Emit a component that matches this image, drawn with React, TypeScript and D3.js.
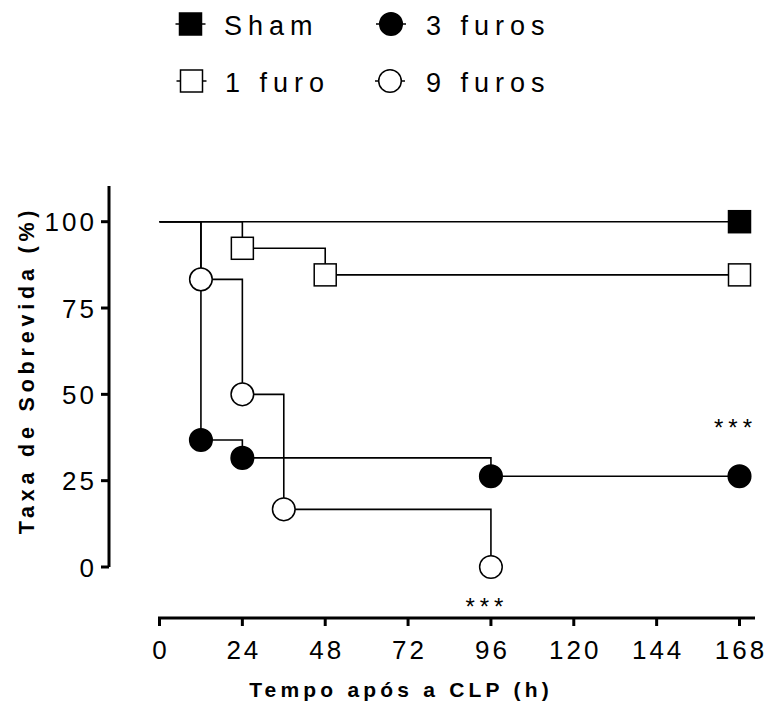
import React from "react";
import * as d3 from "d3";

// Survival (%) over time (h) after CLP, per group
const groups = ["Sham", "1 furo", "3 furos", "9 furos"];
const shamTimes = [0, 168];
const shamSurvival = [100, 100];
const oneTimes = [0, 24, 48, 168];
const oneSurvival = [100, 92.3, 84.6, 84.6];
const threeTimes = [0, 12, 24, 96, 168];
const threeSurvival = [100, 36.8, 31.6, 26.3, 26.3];
const nineTimes = [0, 12, 24, 36, 96];
const nineSurvival = [100, 83.3, 50, 16.7, 0];

const xTicks = [0, 24, 48, 72, 96, 120, 144, 168];
const yTicks = [0, 25, 50, 75, 100];

// Significance markers: [time, survival] the stars sit next to
const starNine = [96, 0];
const starThree = [168, 26.3];

const FONT = "'Liberation Sans', Arial, Helvetica, sans-serif";

type Series = {
  name: string;
  times: number[];
  values: number[];
  shape: "square" | "circle";
  filled: boolean;
};

const series: Series[] = [
  { name: groups[0], times: shamTimes, values: shamSurvival, shape: "square", filled: true },
  { name: groups[1], times: oneTimes, values: oneSurvival, shape: "square", filled: false },
  { name: groups[2], times: threeTimes, values: threeSurvival, shape: "circle", filled: true },
  { name: groups[3], times: nineTimes, values: nineSurvival, shape: "circle", filled: false },
];

function Marker({ cx, cy, shape, filled }: { cx: number; cy: number; shape: string; filled: boolean }) {
  const fill = filled ? "#000" : "#fff";
  if (shape === "square") {
    const s = 22;
    return <rect x={cx - s / 2} y={cy - s / 2} width={s} height={s} fill={fill} stroke="#000" strokeWidth={1.5} />;
  }
  return <circle cx={cx} cy={cy} r={11.3} fill={fill} stroke="#000" strokeWidth={1.5} />;
}

export default function App() {
  const x = d3.scaleLinear().domain([0, 168]).range([159.5, 739.5]);
  const y = d3.scaleLinear().domain([0, 100]).range([567, 221.7]);
  const axisY = 618;
  const axisX = 109;

  const line = d3
    .line<[number, number]>()
    .x((d) => x(d[0]))
    .y((d) => y(d[1]))
    .curve(d3.curveStepAfter);

  const legendItems = [
    { s: series[0], mx: 190.5, my: 24, tx: 224, ty: 35 },
    { s: series[2], mx: 391, my: 24, tx: 426, ty: 35 },
    { s: series[1], mx: 191.5, my: 81, tx: 225, ty: 92 },
    { s: series[3], mx: 390, my: 81, tx: 426, ty: 92 },
  ];

  return (
    <svg
      width={768}
      height={724}
      style={{ position: "absolute", left: 0, top: 0, background: "#fff" }}
      fontFamily={FONT}
    >
      {/* legend */}
      {legendItems.map((it) => (
        <g key={it.s.name}>
          <line x1={it.mx - 15} x2={it.mx + 15} y1={it.my} y2={it.my} stroke="#000" strokeWidth={1.5} />
          <Marker cx={it.mx} cy={it.my} shape={it.s.shape} filled={it.s.filled} />
          <text x={it.tx} y={it.ty} fontSize={27} letterSpacing={6} fill="#000">
            {it.s.name}
          </text>
        </g>
      ))}

      {/* y axis */}
      <line x1={axisX} x2={axisX} y1={186} y2={y(0)} stroke="#000" strokeWidth={3} />
      {yTicks.map((t) => (
        <g key={"y" + t}>
          <line x1={axisX - 8} x2={axisX} y1={y(t)} y2={y(t)} stroke="#000" strokeWidth={3} />
          <text x={97} y={y(t) + 9.5} fontSize={26} letterSpacing={3} textAnchor="end" fill="#000">
            {t}
          </text>
        </g>
      ))}
      <text
        transform={`translate(34,${370}) rotate(-90)`}
        fontSize={21.5}
        fontWeight="bold"
        letterSpacing={4.8}
        textAnchor="middle"
        fill="#000"
      >
        Taxa de Sobrevida (%)
      </text>

      {/* x axis */}
      <line x1={x(0) - 1.5} x2={755} y1={axisY} y2={axisY} stroke="#000" strokeWidth={3} />
      {xTicks.map((t) => (
        <g key={"x" + t}>
          <line x1={x(t)} x2={x(t)} y1={axisY} y2={axisY + 8} stroke="#000" strokeWidth={3} />
          <text x={x(t) + 1.5} y={659} fontSize={26} letterSpacing={3} textAnchor="middle" fill="#000">
            {t}
          </text>
        </g>
      ))}
      <text x={401} y={697} fontSize={21} fontWeight="bold" letterSpacing={4.2} textAnchor="middle" fill="#000">
        Tempo após a CLP (h)
      </text>

      {/* step survival curves */}
      {series.map((s) => (
        <path
          key={"p" + s.name}
          d={line(s.times.map((t, i) => [t, s.values[i]] as [number, number])) || ""}
          fill="none"
          stroke="#000"
          strokeWidth={1.6}
        />
      ))}
      {series.map((s) =>
        s.times.map((t, i) =>
          t === 0 ? null : (
            <Marker key={s.name + t} cx={x(t)} cy={y(s.values[i])} shape={s.shape} filled={s.filled} />
          )
        )
      )}

      {/* significance */}
      <text x={x(starNine[0]) - 4} y={y(starNine[1]) + 48} fontSize={24} letterSpacing={5} textAnchor="middle" fill="#000">
        ***
      </text>
      <text x={x(starThree[0]) - 4} y={y(starThree[1]) - 40} fontSize={24} letterSpacing={5} textAnchor="middle" fill="#000">
        ***
      </text>
    </svg>
  );
}
